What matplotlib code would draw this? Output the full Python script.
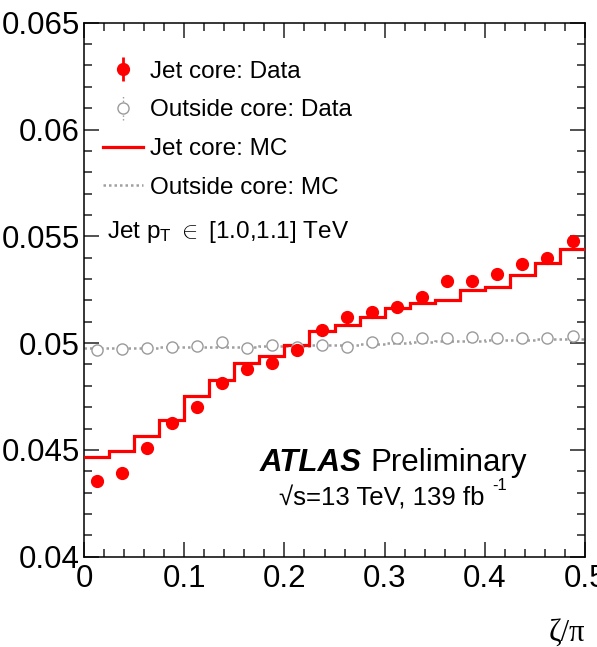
import matplotlib
matplotlib.use("Agg")
import matplotlib.pyplot as plt
import numpy as np
from matplotlib.lines import Line2D
from matplotlib.ticker import MultipleLocator, FuncFormatter

plt.rcParams["font.family"] = ["Liberation Sans", "DejaVu Sans"]
plt.rcParams["mathtext.fontset"] = "custom"
plt.rcParams["mathtext.rm"] = "Liberation Sans"
plt.rcParams["mathtext.it"] = "Liberation Sans:italic"

# zeta/pi binning: 20 bins of 0.025
bin_edges = np.linspace(0.0, 0.5, 21)
bin_centres = 0.5 * (bin_edges[:-1] + bin_edges[1:])

core_data = [0.04354, 0.04391, 0.04510, 0.04624, 0.04699, 0.04811, 0.04877, 0.04905,
             0.04967, 0.05059, 0.05120, 0.05147, 0.05167, 0.05217, 0.05292, 0.05292,
             0.05322, 0.05368, 0.05399, 0.05479]
core_data_err = [0.00008] * 20
outside_data = [0.04967, 0.04972, 0.04975, 0.04983, 0.04987, 0.05003, 0.04978, 0.04991,
                0.04983, 0.04991, 0.04983, 0.05006, 0.05022, 0.05022, 0.05025, 0.05030,
                0.05025, 0.05025, 0.05025, 0.05034]
outside_data_err = [0.00005] * 20
core_mc = [0.04468, 0.04494, 0.04567, 0.04640, 0.04752, 0.04827, 0.04905, 0.04938,
           0.04989, 0.05055, 0.05087, 0.05122, 0.05162, 0.05186, 0.05201, 0.05248,
           0.05264, 0.05318, 0.05373, 0.05439]
outside_mc = [0.04978, 0.04978, 0.04978, 0.04980, 0.04982, 0.04982, 0.04983, 0.04985,
              0.04988, 0.04990, 0.04993, 0.04997, 0.05002, 0.05006, 0.05010, 0.05012,
              0.05014, 0.05016, 0.05018, 0.05020]

RED = "#ff0000"
GREY = "#9a9a9a"
MC_GREY = "#a0a0a0"
DOTTED = (0, (1, 1.2))

fig = plt.figure(figsize=(5.97, 6.47), dpi=100)
ax = fig.add_axes([0.1407, 0.1396, 0.8393, 0.8253])

# MC histograms as steps (no drop to the baseline at the ends)
ax.stairs(outside_mc, bin_edges, baseline=None, color=MC_GREY, lw=1.8, ls=DOTTED, zorder=2)
ax.stairs(core_mc, bin_edges, baseline=None, color=RED, lw=2.3, zorder=3)

out_eb = ax.errorbar(bin_centres, outside_data, yerr=outside_data_err, fmt="o",
                     mfc="white", mec=GREY, mew=1.0, ms=8, color=GREY,
                     elinewidth=1.0, capsize=0, zorder=4)
out_eb[2][0].set_linestyle(":")
core_eb = ax.errorbar(bin_centres, core_data, yerr=core_data_err, fmt="o",
                      color=RED, ms=8.5, elinewidth=2.0, capsize=0, zorder=5)

ax.set_xlim(0, 0.5)
ax.set_ylim(0.04, 0.065)
ax.xaxis.set_major_locator(MultipleLocator(0.1))
ax.xaxis.set_minor_locator(MultipleLocator(0.02))
ax.yaxis.set_major_locator(MultipleLocator(0.005))
ax.yaxis.set_minor_locator(MultipleLocator(0.001))
fmt = FuncFormatter(lambda v, _: f"{v:g}")
ax.xaxis.set_major_formatter(fmt)
ax.yaxis.set_major_formatter(fmt)
ax.tick_params(which="both", direction="in", top=True, right=True, width=1.1,
               labelsize=22.5, color="#222222")
ax.tick_params(which="major", length=11)
ax.tick_params(which="minor", length=5.5)
ax.tick_params(axis="y", pad=3)
ax.tick_params(axis="x", pad=5)
for spine in ax.spines.values():
    spine.set_linewidth(1.1)

ax.set_xlabel("ζ/π", loc="right", fontfamily="Liberation Serif", fontsize=22, labelpad=18)

handles = [core_eb, out_eb,
           Line2D([], [], color=RED, lw=2.3),
           Line2D([], [], color=MC_GREY, lw=1.8, ls=DOTTED)]
labels = ["Jet core: Data", "Outside core: Data", "Jet core: MC", "Outside core: MC"]
ax.legend(handles, labels, loc="upper left", bbox_to_anchor=(0.038, 0.929),
          frameon=False, fontsize=17.5, handlelength=1.65, handletextpad=0.3,
          labelspacing=0.69, borderpad=0, borderaxespad=0)

ax.text(0.046, 0.608, r"Jet p$_{\rm T}$ $\in$ [1.0,1.1] TeV", transform=ax.transAxes,
        fontsize=17.5, va="center", ha="left")
ax.text(0.351, 0.1755, "ATLAS", transform=ax.transAxes, fontsize=22.5,
        fontweight="bold", fontstyle="italic", va="center", ha="left")
ax.text(0.571, 0.1755, "Preliminary", transform=ax.transAxes, fontsize=22.5,
        va="center", ha="left")
lumi = ax.text(0.389, 0.109, "√s=13 TeV, 139 fb", transform=ax.transAxes,
               fontsize=18.5, va="center", ha="left")
ax.annotate("-1", xy=(1, 1), xycoords=lumi, xytext=(6, -5), textcoords="offset points",
            fontsize=12, va="bottom", ha="left")

fig.savefig("out.png", dpi=100)
